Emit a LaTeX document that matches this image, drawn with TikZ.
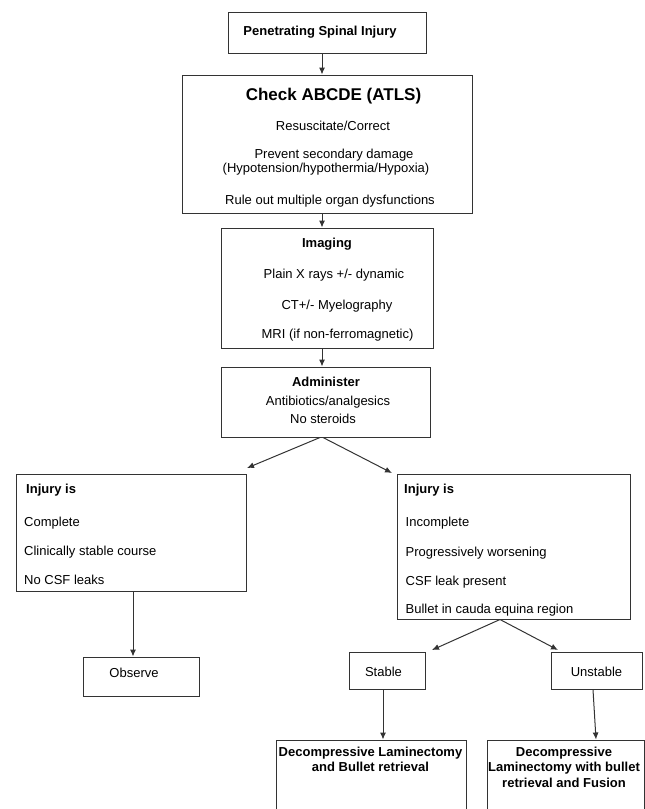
\documentclass[tikz,border=0pt]{standalone}
\usepackage{fontspec}
\setmainfont{Liberation Sans}
\usetikzlibrary{arrows.meta,fit}

\tikzset{
    box/.style={draw=black!80, line width=1pt, inner sep=0pt},
    txt/.style={anchor=base, inner sep=0pt, font=\fontsize{13}{15}\selectfont},
    lst/.style={txt, anchor=base west},
    arr/.style={draw=black!80, line width=1pt, -{Latex[length=7pt,width=6pt]}}
}

\begin{document}
\begin{tikzpicture}[x=1pt, y=-1pt]

            % the frame
            \useasboundingbox (0,0) rectangle (645,809);
            \clip (0,0) rectangle (645,809);

            % the boxes
            \node[box, fit={(228,12) (426,53)}] (pen) {};
            \node[box, fit={(182,75) (472,213)}] (check) {};
            \node[box, fit={(221,228) (433,348)}] (img) {};
            \node[box, fit={(221,367) (430,437)}] (adm) {};
            \node[box, fit={(16,474) (246,591)}] (cmp) {};
            \node[box, fit={(397,474) (630,619)}] (inc) {};
            \node[box, fit={(83,657) (199,696)}] (obs) {};
            \node[box, fit={(349,652) (425,689)}] (stab) {};
            \node[box, fit={(551,652) (642,689)}] (unst) {};
            \node[box, fit={(276,740) (466,830)}] (lam) {};
            \node[box, fit={(487,740) (644.5,830)}] (fus) {};

            % the top column
            \node[txt] (pen-t) at (320,35) {\bfseries Penetrating Spinal Injury};
            \node[txt, font=\fontsize{17}{20}\selectfont\bfseries] (check-t) at (333.5,100) {Check ABCDE (ATLS)};
            \node[txt] (check-1) at (333,130) {Resuscitate/Correct};
            \node[txt] (check-2) at (334,158.5) {Prevent secondary damage};
            \node[txt] (check-3) at (326,172.5) {(Hypotension/hypothermia/Hypoxia)};
            \node[txt] (check-4) at (330,204) {Rule out multiple organ dysfunctions};
            \node[txt] (img-t) at (327,247.5) {\bfseries Imaging};
            \node[txt] (img-1) at (334,278.5) {Plain X rays +/- dynamic};
            \node[txt] (img-2) at (337,309.5) {CT+/- Myelography};
            \node[txt] (img-3) at (337.5,338.5) {MRI (if non-ferromagnetic)};
            \node[txt] (adm-t) at (326,386) {\bfseries Administer};
            \node[txt] (adm-1) at (328,405.5) {Antibiotics/analgesics};
            \node[txt] (adm-2) at (323,423.5) {No steroids};

            % the two branches
            \node[lst] (cmp-t) at (26,493.5) {\bfseries Injury is};
            \foreach \t/\y [count=\i] in {Complete/526, Clinically stable course/555, No CSF leaks/584.5} {
                \node[lst] (cmp-\i) at (24,\y) {\t};
            }
            \node[lst] (inc-t) at (404,493.5) {\bfseries Injury is};
            \foreach \t/\y [count=\i] in {Incomplete/526, Progressively worsening/556, CSF leak present/585.5, Bullet in cauda equina region/613.5} {
                \node[lst] (inc-\i) at (405.5,\y) {\t};
            }
            \node[txt] (obs-t) at (134,677.5) {Observe};
            \node[txt] (stab-t) at (383.5,676) {Stable};
            \node[txt] (unst-t) at (596.5,676) {Unstable};

            % the operations
            \foreach \t/\y [count=\i] in {Decompressive Laminectomy/756, and Bullet retrieval/771} {
                \node[txt, font=\fontsize{13}{15}\selectfont\bfseries] (lam-\i) at (370.5,\y) {\t};
            }
            \foreach \t/\y [count=\i] in {Decompressive/756, Laminectomy with bullet/771.5, retrieval and Fusion/787.5} {
                \node[txt, font=\fontsize{13}{15}\selectfont\bfseries] (fus-\i) at (564,\y) {\t};
            }

            % the arrows
            \coordinate (spine) at (322,0);
            \draw[arr] (pen.south -| spine) -- (check.north -| spine);
            \draw[arr] (check.south -| spine) -- (img.north -| spine);
            \draw[arr] (img.south -| spine) -- (adm.north -| spine);

            \coordinate (cmp-in) at (247,468);
            \coordinate (inc-in) at (392,473);
            \draw[arr] ([xshift=-2pt]adm.south -| spine) -- (cmp-in);
            \draw[arr] ([xshift=1pt]adm.south -| spine) -- (inc-in);

            \coordinate (cmp-out) at (133,0);
            \draw[arr] (cmp.south -| cmp-out) -- (obs.north -| cmp-out);

            \coordinate (fork) at (500,0);
            \coordinate (stab-in) at (432,650);
            \coordinate (unst-in) at (558,650);
            \draw[arr] (inc.south -| fork) -- (stab-in);
            \draw[arr] (inc.south -| fork) -- (unst-in);

            \coordinate (stab-out) at (383,0);
            \draw[arr] (stab.south -| stab-out) -- (lam.north -| stab-out);
            \coordinate (unst-out) at (593,0);
            \coordinate (fus-in) at (596,0);
            \draw[arr] (unst.south -| unst-out) -- (fus.north -| fus-in);

        \end{tikzpicture}
\end{document}
